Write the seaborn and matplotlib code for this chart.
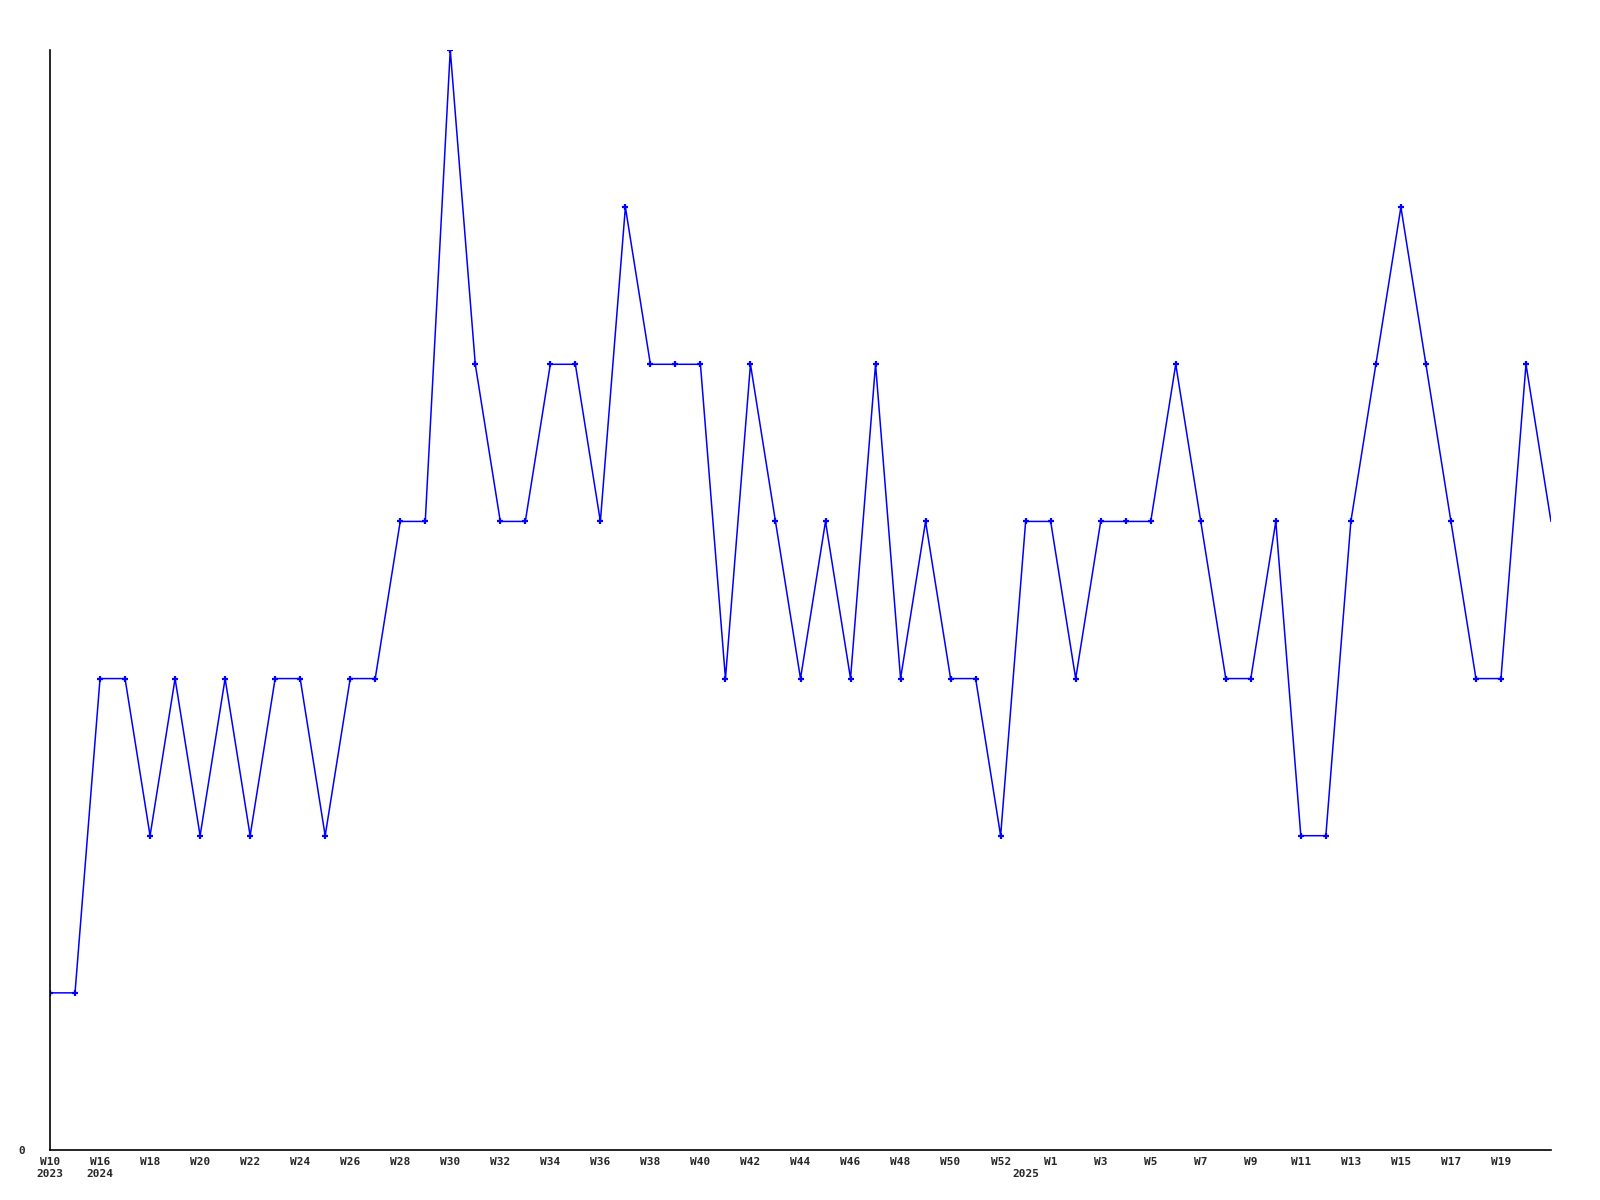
import pandas as pd
import matplotlib.pyplot as plt
import seaborn as sns

# --- data ---
weeks = (["W10", "W11"] + [f"W{w}" for w in range(16, 53)] + ["W0"]
         + [f"W{w}" for w in range(1, 22)])
years = ([2023] * 2 + [2024] * 37 + [2025] * 22)
counts = [1, 1, 3, 3, 2, 3, 2, 3, 2, 3, 3, 2, 3, 3, 4, 4, 7, 5, 4, 4,
          5, 5, 4, 6, 5, 5, 5, 3, 5, 4, 3, 4, 3, 5, 3, 4, 3, 3, 2, 4,
          4, 3, 4, 4, 4, 5, 4, 3, 3, 4, 2, 2, 4, 5, 6, 5, 4, 3, 3, 5, 4]

df = pd.DataFrame({"week": weeks, "year": years, "count": counts})
df["idx"] = range(len(df))

# --- tick labels: every other week, year under first week of each year ---
tick_pos, tick_lab = [], []
prev_year = None
for i, row in df.iterrows():
    new_year = row["year"] != prev_year
    prev_year = row["year"]
    if i == len(df) - 1:
        continue
    if i % 2 == 0 or new_year:
        wk = row["week"] if i % 2 == 0 else ""
        lab = wk + ("\n" + str(row["year"]) if new_year else "")
        tick_pos.append(i)
        tick_lab.append(lab)

sns.set_style("white")
plt.rcParams["font.family"] = ["DejaVu Sans Mono"]

fig = plt.figure(figsize=(16, 12), dpi=100)
ax = fig.add_axes([50 / 1600, 50 / 1200, 1501 / 1600, 1100 / 1200])

sns.lineplot(data=df, x="idx", y="count", ax=ax, color="#0000ff", lw=1.1,
             marker="+", markersize=4.5, markeredgewidth=1.6,
             markeredgecolor="#0000ff",
             markevery=list(range(len(df) - 1)))

ax.set_xlim(0, len(df) - 1)
ax.set_ylim(0, 7)
ax.set_yticks([0])
ax.set_yticklabels(["0"], fontsize=8, fontweight="bold")
ax.set_xticks(tick_pos)
ax.set_xticklabels(tick_lab, fontsize=8, fontweight="bold", linespacing=1.3,
                   va="top")
ax.tick_params(axis="both", length=0)
ax.tick_params(axis="x", pad=5)
ax.tick_params(axis="y", pad=18)
ax.set_xlabel("")
ax.set_ylabel("")

for side in ["top", "right"]:
    ax.spines[side].set_visible(False)
for side in ["left", "bottom"]:
    ax.spines[side].set_color("black")
    ax.spines[side].set_linewidth(1.2)

fig.savefig("out.png", dpi=100)
